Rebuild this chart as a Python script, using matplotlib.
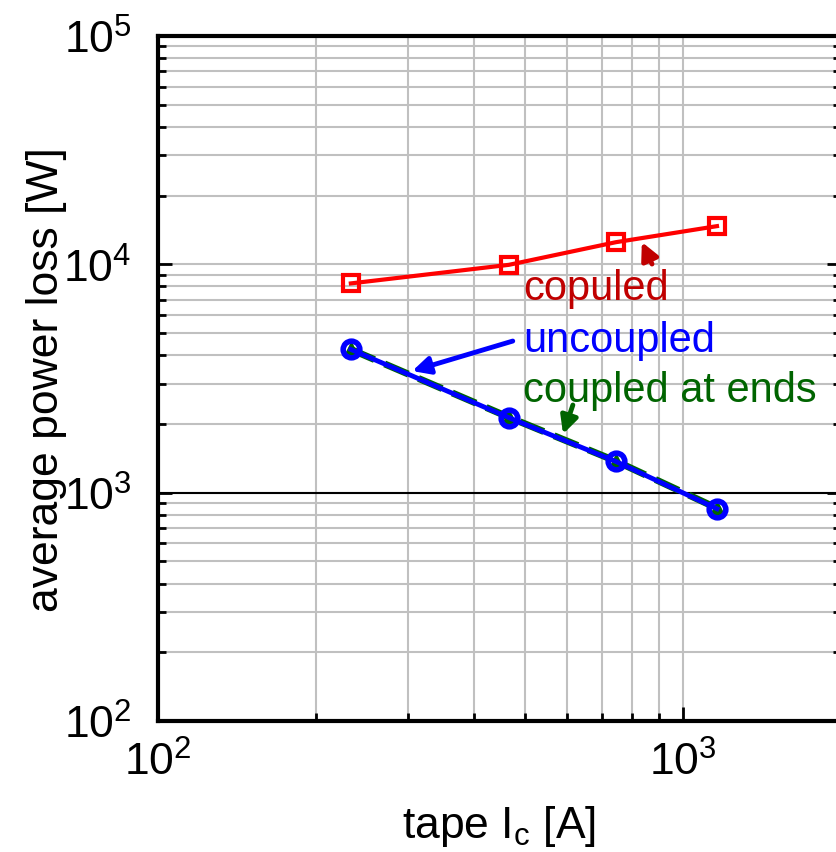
import numpy as np
import matplotlib
matplotlib.use('Agg')
import matplotlib.pyplot as plt

plt.rcParams['font.family'] = ['Liberation Sans', 'DejaVu Sans']
plt.rcParams['mathtext.fontset'] = 'custom'
plt.rcParams['mathtext.rm'] = 'Liberation Sans'
plt.rcParams['mathtext.it'] = 'Liberation Sans:italic'
plt.rcParams['mathtext.bf'] = 'Liberation Sans:bold'

# tape critical current [A]
tape_ic = [233, 466, 745, 1161]

# average power loss [W]
loss_coupled = [8250, 9950, 12500, 14700]
loss_uncoupled = [4240, 2130, 1370, 850]
loss_coupled_ends = [4240, 2140, 1375, 855]

labels = ['copuled', 'uncoupled', 'coupled at ends']
colors = ['#c00000', '#0000ff', '#006400']
# text anchor (data coords), arrow tail, arrow head
text_pos = [(496, 7046), (496, 4170), (496, 2520)]
arrow_tail = [(873, 10030), (474, 4613), (617, 2420)]
arrow_head = [(835, 12520), (305, 3409), (591, 1806)]


def main():
  fig = plt.figure(figsize=(8.37, 8.53), dpi=100)
  ax = fig.add_axes([158 / 837, 1 - 722 / 853, (841 - 158) / 837, (722 - 37) / 853])
  ax.set_xscale('log')
  ax.set_yscale('log')
  ax.set_xlim(100, 2000)
  ax.set_ylim(100, 1e5)

  ax.grid(True, which='both', color='#c0c0c0', linewidth=1.5)
  ax.set_axisbelow(True)
  ax.axhline(1000, color='black', linewidth=1.5, zorder=1.5)

  ax.plot(tape_ic, loss_coupled, color='#ff0000', linewidth=3, marker='s',
          markersize=11, markerfacecolor='none', markeredgewidth=3, zorder=3)
  ax.plot(tape_ic, loss_coupled_ends, color='#006400', linewidth=5, linestyle='--',
          marker='^', markersize=10, zorder=3)
  ax.plot(tape_ic, loss_uncoupled, color='#0000ff', linewidth=3.5, marker='o',
          markersize=12, markerfacecolor='none', markeredgewidth=4, zorder=4)

  for lab, col, tp, tail, head in zip(labels, colors, text_pos, arrow_tail, arrow_head):
    ax.text(tp[0], tp[1], lab, color=col, fontsize=30, va='baseline', ha='left', zorder=5)
    ax.annotate('', xy=head, xytext=tail,
                arrowprops=dict(arrowstyle='-|>', color=col, lw=3.5,
                                mutation_scale=26, shrinkA=0, shrinkB=0), zorder=5)

  for s in ax.spines.values():
    s.set_linewidth(3)
  ax.tick_params(which='both', direction='in', top=False, right=True, labelsize=32)
  ax.tick_params(axis='y', pad=19)
  ax.tick_params(axis='x', pad=14)
  ax.tick_params(which='major', length=10, width=2)
  ax.tick_params(which='minor', length=6, width=2)

  ax.set_xlabel('tape I$_\\mathrm{c}$ [A]', fontsize=32, labelpad=14)
  ax.set_ylabel('average power loss [W]', fontsize=32, labelpad=-3)

  fig.savefig('out.png', dpi=100)


if __name__ == '__main__':
  main()
